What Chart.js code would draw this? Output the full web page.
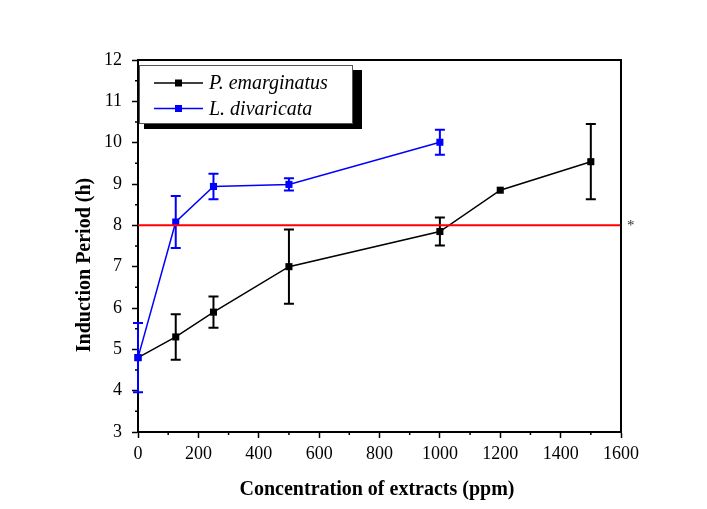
<!DOCTYPE html>
<html>
<head>
<meta charset="utf-8">
<script src="https://cdn.jsdelivr.net/npm/chart.js@4.4.0/dist/chart.umd.min.js"></script>
<style>
  body{margin:0;background:#fff;}
</style>
</head>
<body>
<canvas id="chart" width="707" height="509"></canvas>
<script>
// P. emarginatus
const conc_p = [0, 125, 250, 500, 1000, 1200, 1500];
const period_p = [4.8, 5.3, 5.9, 7.0, 7.85, 8.85, 9.54];
const err_p = [0, 0.55, 0.38, 0.9, 0.34, 0, 0.91];

// L. divaricata
const conc_l = [0, 125, 250, 500, 1000];
const period_l = [4.8, 8.08, 8.94, 8.99, 10.01];
const err_l = [0.84, 0.63, 0.31, 0.15, 0.3];

// red reference line
const ref_level = 8;
const ref_span = [0, 1600];

// axes
const x_range = [0, 1600];
const x_step = 200;
const y_range = [3, 12];
const y_step = 1;

const x_title = "Concentration of extracts (ppm)";
const y_title = "Induction Period (h)";

const serif = "'Liberation Serif', 'Times New Roman', serif";

const pts = (xs, ys)=> xs.map((x,i)=>({x:x, y:ys[i]}));

const extras = {
  id: 'extras',
  beforeDatasetsDraw(chart){
    const ctx = chart.ctx;
    const xs = chart.scales.x, ys = chart.scales.y;
    const bars = [
      {c: conc_p, v: period_p, e: err_p, col: '#000'},
      {c: conc_l, v: period_l, e: err_l, col: '#0000ff'}
    ];
    ctx.save();
    ctx.lineWidth = 2;
    bars.forEach(b=>{
      ctx.strokeStyle = b.col;
      b.c.forEach((x,i)=>{
        if(!b.e[i]) return;
        const px = xs.getPixelForValue(x);
        const top = ys.getPixelForValue(b.v[i] + b.e[i]);
        const bot = ys.getPixelForValue(b.v[i] - b.e[i]);
        ctx.beginPath();
        ctx.moveTo(px, top); ctx.lineTo(px, bot);
        ctx.moveTo(px-5, top); ctx.lineTo(px+5, top);
        ctx.moveTo(px-5, bot); ctx.lineTo(px+5, bot);
        ctx.stroke();
      });
    });
    ctx.restore();
  },
  afterDraw(chart){
    const ctx = chart.ctx;
    const a = chart.chartArea;
    const xs = chart.scales.x, ys = chart.scales.y;
    ctx.save();

    // top and right frame
    ctx.strokeStyle = '#000';
    ctx.lineWidth = 2;
    ctx.beginPath();
    ctx.moveTo(a.left, a.top); ctx.lineTo(a.right, a.top); ctx.lineTo(a.right, a.bottom);
    ctx.stroke();

    // minor ticks
    ctx.lineWidth = 1.5;
    ctx.beginPath();
    for(let v = x_range[0] + x_step/2; v < x_range[1]; v += x_step){
      const px = xs.getPixelForValue(v);
      ctx.moveTo(px, a.bottom); ctx.lineTo(px, a.bottom + 3);
    }
    for(let v = y_range[0] + y_step/2; v < y_range[1]; v += y_step){
      const py = ys.getPixelForValue(v);
      ctx.moveTo(a.left, py); ctx.lineTo(a.left - 3, py);
    }
    ctx.stroke();

    // star next to the reference line
    ctx.fillStyle = '#333';
    ctx.font = "15px " + serif;
    ctx.textAlign = 'left';
    ctx.textBaseline = 'middle';
    ctx.fillText('*', a.right + 6, ys.getPixelForValue(ref_level) + 1);

    // axis titles
    ctx.fillStyle = '#000';
    ctx.font = "bold 20px " + serif;
    ctx.textAlign = 'center';
    ctx.textBaseline = 'middle';
    ctx.fillText(x_title, 377, 490);
    ctx.save();
    ctx.translate(85, 265);
    ctx.rotate(-Math.PI/2);
    ctx.fillText(y_title, 0, 0);
    ctx.restore();

    // legend box with shadow
    const bx = a.left + 1, by = 65, bw = 213, bh = 58;
    ctx.fillStyle = '#000';
    ctx.fillRect(bx + 5, by + 5, bw + 5, bh + 1);
    ctx.fillStyle = '#fff';
    ctx.fillRect(bx, by, bw, bh);
    ctx.strokeStyle = '#555';
    ctx.lineWidth = 1;
    ctx.strokeRect(bx + 0.5, by + 0.5, bw, bh);

    const items = chart.data.datasets.filter(d=>d.legend).sort((p,q)=>p.legend - q.legend);
    items.forEach((d,i)=>{
      const y = 83 + i*25.5;
      ctx.strokeStyle = d.borderColor;
      ctx.lineWidth = 1.5;
      ctx.beginPath();
      ctx.moveTo(154, y); ctx.lineTo(203, y);
      ctx.stroke();
      ctx.fillStyle = d.borderColor;
      ctx.fillRect(175, y - 3.5, 7, 7);
      ctx.fillStyle = '#000';
      ctx.font = "italic 20px " + serif;
      ctx.textAlign = 'left';
      ctx.textBaseline = 'middle';
      ctx.fillText(d.label, 209, y + 1);
    });

    ctx.restore();
  }
};

new Chart(document.getElementById('chart'), {
  type: 'line',
  data: {
    datasets: [
      {
        label: 'reference',
        data: ref_span.map(x=>({x:x, y:ref_level})),
        borderColor: '#ff0000',
        borderWidth: 2,
        pointRadius: 0,
        clip: false,
        order: 0
      },
      {
        label: 'L. divaricata',
        legend: 2,
        data: pts(conc_l, period_l),
        borderColor: '#0000ff',
        backgroundColor: '#0000ff',
        borderWidth: 1.5,
        pointStyle: 'rect',
        pointRadius: 5,
        pointBorderWidth: 0,
        clip: false,
        order: 1
      },
      {
        label: 'P. emarginatus',
        legend: 1,
        data: pts(conc_p, period_p),
        borderColor: '#000',
        backgroundColor: '#000',
        borderWidth: 1.5,
        pointStyle: 'rect',
        pointRadius: 5,
        pointBorderWidth: 0,
        clip: false,
        order: 2
      }
    ]
  },
  options: {
    responsive: false,
    animation: false,
    layout: { padding: { left: 0, right: 86, top: 60, bottom: 0 } },
    plugins: { legend: { display: false }, tooltip: { enabled: false } },
    scales: {
      x: {
        type: 'linear',
        min: x_range[0], max: x_range[1],
        ticks: { stepSize: x_step, padding: 5, color: '#000', font: { family: serif, size: 18 }, callback: v=>String(v) },
        grid: { drawOnChartArea: false, drawTicks: true, tickLength: 6, tickWidth: 1.5, tickColor: '#000' },
        border: { color: '#000', width: 2 },
        afterFit: s=>{ s.height = 77; }
      },
      y: {
        min: y_range[0], max: y_range[1],
        ticks: { stepSize: y_step, padding: 10, color: '#000', font: { family: serif, size: 18 }, callback: v=>String(v) },
        grid: { drawOnChartArea: false, drawTicks: true, tickLength: 6, tickWidth: 1.5, tickColor: '#000' },
        border: { color: '#000', width: 2 },
        afterFit: s=>{ s.width = 138; }
      }
    }
  },
  plugins: [extras]
});
</script>
</body>
</html>
